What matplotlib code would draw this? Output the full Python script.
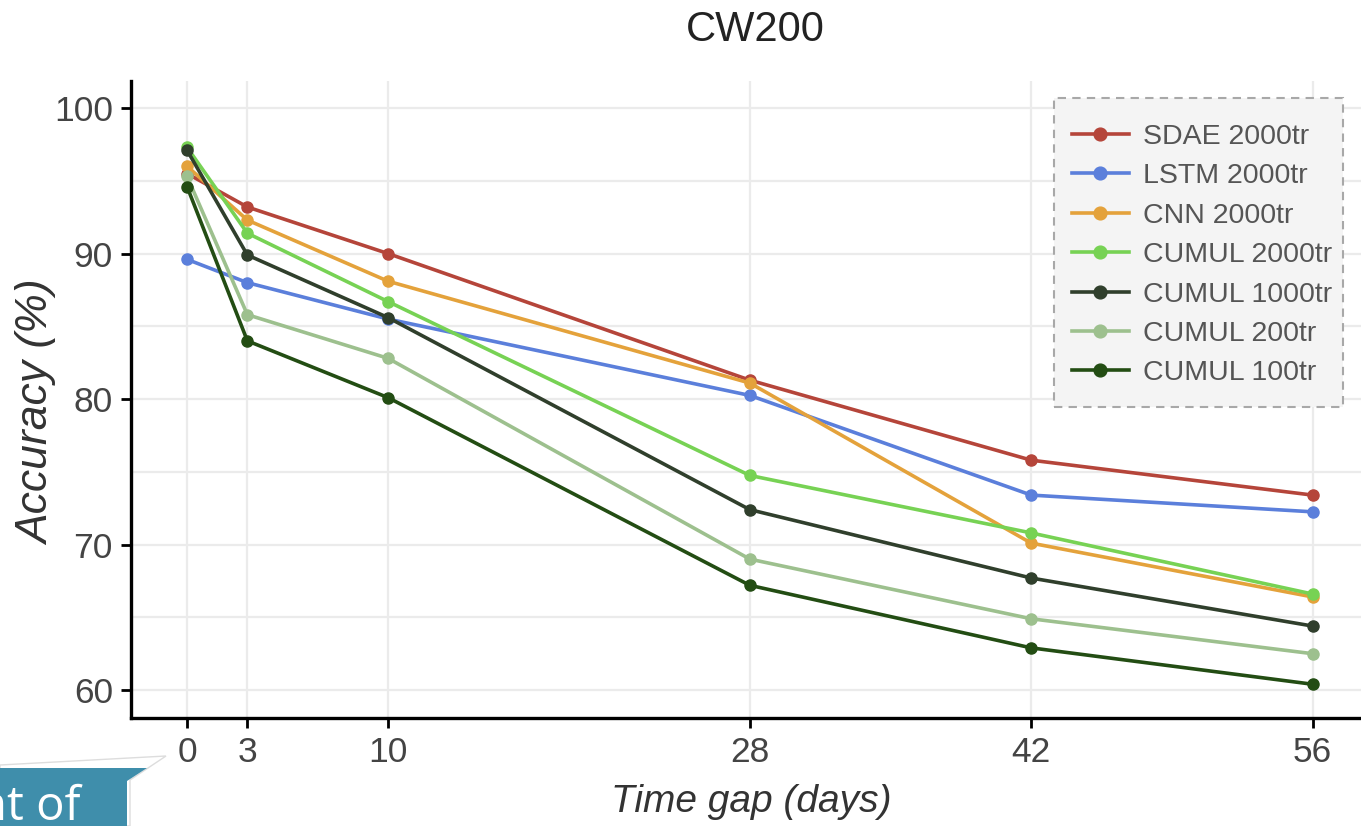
import matplotlib.pyplot as plt
from matplotlib.patches import Polygon, Rectangle
import numpy as np

plt.rcParams['font.family'] = ['Liberation Sans', 'DejaVu Sans']

# data
days = [0, 3, 10, 28, 42, 56]
sdae_2000 = [95.5, 93.2, 90.0, 81.3, 75.8, 73.4]
lstm_2000 = [89.6, 88.0, 85.5, 80.25, 73.4, 72.25]
cnn_2000 = [96.0, 92.3, 88.1, 81.1, 70.1, 66.4]
cumul_2000 = [97.3, 91.4, 86.7, 74.75, 70.8, 66.6]
cumul_1000 = [97.1, 89.9, 85.6, 72.4, 67.7, 64.4]
cumul_200 = [95.3, 85.8, 82.8, 69.0, 64.9, 62.5]
cumul_100 = [94.6, 84.0, 80.1, 67.2, 62.9, 60.4]

series = [
    ("SDAE 2000tr", sdae_2000, "#b5453a"),
    ("LSTM 2000tr", lstm_2000, "#5b7fdb"),
    ("CNN 2000tr", cnn_2000, "#e4a23b"),
    ("CUMUL 2000tr", cumul_2000, "#77d254"),
    ("CUMUL 1000tr", cumul_1000, "#303f2c"),
    ("CUMUL 200tr", cumul_200, "#9dc08e"),
    ("CUMUL 100tr", cumul_100, "#234d13"),
]

W, H = 1361, 826
fig = plt.figure(figsize=(W / 100, H / 100), dpi=100)
ax = fig.add_axes([131 / W, (H - 718) / H, (W - 131) / W, (718 - 81) / H])

for name, vals, col in series:
    ax.plot(days, vals, color=col, lw=2.6, marker='o', ms=8, label=name, zorder=3)

ax.set_xlim(-2.79, 58.41)
ax.set_ylim(58.08, 101.86)
ax.set_xticks(days)
ax.set_yticks([60, 70, 80, 90, 100])
ax.set_yticks([65, 75, 85, 95], minor=True)
ax.grid(which='major', color='#ebebeb', lw=1.6, zorder=0)
ax.grid(which='minor', axis='y', color='#ebebeb', lw=1.6, zorder=0)
ax.tick_params(which='minor', left=False)
ax.tick_params(which='major', length=7, width=2, color='black',
               labelsize=25.5, labelcolor='#444444', pad=6)
for s in ['top', 'right']:
    ax.spines[s].set_visible(False)
for s in ['left', 'bottom']:
    ax.spines[s].set_linewidth(2.4)
    ax.spines[s].set_color('black')

ax.set_xlabel("Time gap (days)", fontsize=28, style='italic', color='#333333')
ax.set_ylabel("Accuracy (%)", fontsize=32, style='italic', color='#333333')
ax.xaxis.set_label_coords(0.504, -0.104)
ax.yaxis.set_label_coords(-0.059, 0.479)
fig.text(755 / W, 1 - 30 / H, "CW200", fontsize=30, color='#222222', ha='center', va='center')

# legend box drawn by hand so it sits where the reference has it
ax.add_patch(Rectangle((1054 / W, 1 - 407 / H), 289 / W, 309 / H,
                       facecolor='#f4f4f4', edgecolor='#a8a8a8', lw=1.5,
                       linestyle=(0, (4, 3)), transform=fig.transFigure,
                       clip_on=False, zorder=3.5))
leg = ax.legend(loc='upper left', bbox_to_anchor=(1072 / W, 1 - 124 / H),
                bbox_transform=fig.transFigure, borderaxespad=0, borderpad=0,
                fontsize=20.5, handlelength=2.0, handletextpad=0.5, labelspacing=0.47,
                markerscale=1.15, frameon=False)
leg.set_zorder(5)
for t in leg.get_texts():
    t.set_color('#555555')

# slide callout partly covering the corner
to_fig = lambda pts: [(x / W, 1 - y / H) for x, y in pts]
fig.patches.append(Polygon(to_fig([(0, 765), (166, 756), (130, 780), (130, 826), (0, 826)]),
                           closed=True, facecolor='white', edgecolor='#dddddd', lw=1,
                           transform=fig.transFigure, zorder=5))
fig.patches.append(Polygon(to_fig([(0, 768), (147, 768), (127, 781), (127, 826), (0, 826)]),
                           closed=True, facecolor='#3f8eab', edgecolor='none',
                           transform=fig.transFigure, zorder=6))
fig.text(80 / W, 1 - 820 / H, "nt of", fontsize=34, color='white', family='Open Sans',
         ha='right', va='baseline', zorder=7)

fig.savefig("out.png", dpi=100)
